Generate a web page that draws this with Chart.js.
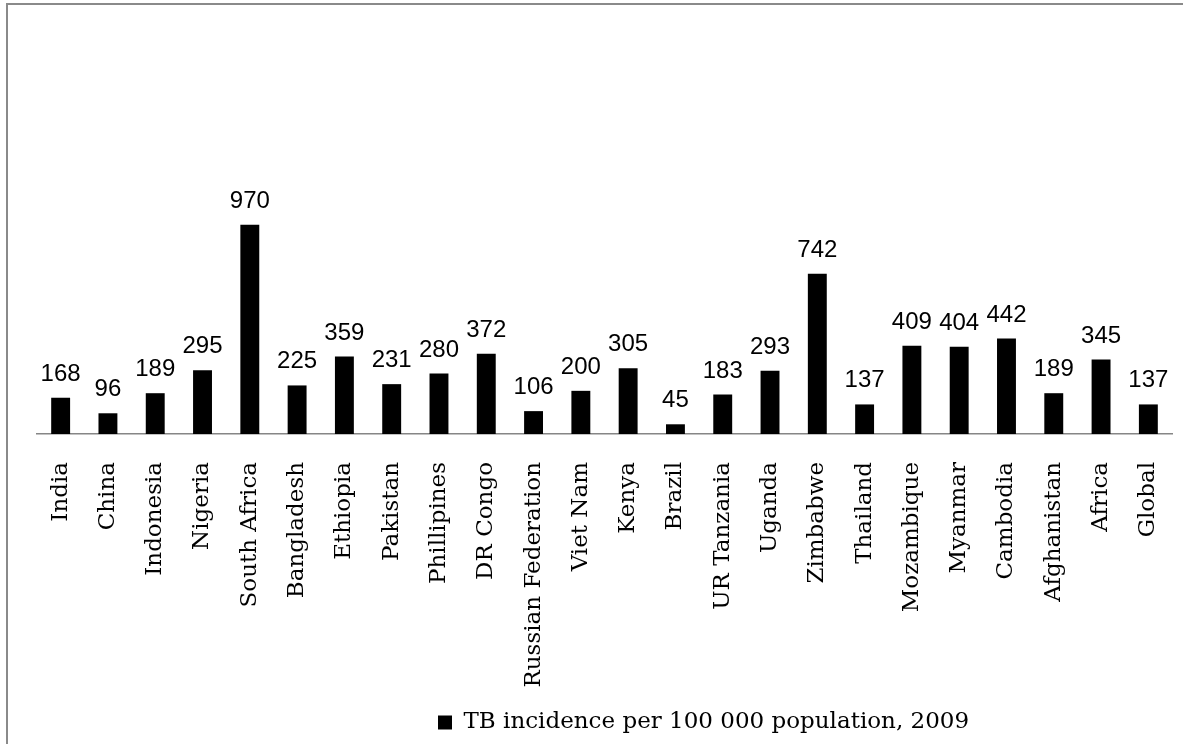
<!DOCTYPE html>
<html>
<head>
<meta charset="utf-8">
<title>TB incidence per 100 000 population, 2009</title>
<script src="https://cdn.jsdelivr.net/npm/chart.js@4.4.1/dist/chart.umd.min.js"></script>
<style>
  html, body { margin: 0; padding: 0; background: #ffffff; }
  #wrap { width: 1183px; height: 744px; position: relative; }
</style>
</head>
<body>
<div id="wrap"><canvas id="chart" width="1183" height="744"></canvas></div>
<script>
// Countries / regions shown on the category axis
const countries = [
  'India', 'China', 'Indonesia', 'Nigeria', 'South Africa', 'Bangladesh',
  'Ethiopia', 'Pakistan', 'Phillipines', 'DR Congo', 'Russian Federation',
  'Viet Nam', 'Kenya', 'Brazil', 'UR Tanzania', 'Uganda', 'Zimbabwe',
  'Thailand', 'Mozambique', 'Myanmar', 'Cambodia', 'Afghanistan', 'Africa', 'Global'
];

// Estimated TB incidence per 100 000 population, 2009
const incidence = [
  168, 96, 189, 295, 970, 225,
  359, 231, 280, 372, 106,
  200, 305, 45, 183, 293, 742,
  137, 409, 404, 442, 189, 345, 137
];

const seriesName = 'TB incidence per 100 000 population, 2009';
const valueMax = 1200;

// Thin grey frame along the top and left edges
const framePlugin = {
  id: 'frame',
  beforeDraw(chart) {
    const ctx = chart.ctx;
    ctx.save();
    ctx.strokeStyle = '#8a8a8a';
    ctx.lineWidth = 2;
    ctx.beginPath();
    ctx.moveTo(7, chart.height);
    ctx.lineTo(7, 4);
    ctx.lineTo(chart.width, 4);
    ctx.stroke();
    ctx.restore();
  }
};

// Value printed above each bar
const valueLabels = {
  id: 'valueLabels',
  afterDatasetsDraw(chart) {
    const ctx = chart.ctx;
    const meta = chart.getDatasetMeta(0);
    const data = chart.data.datasets[0].data;
    ctx.save();
    ctx.fillStyle = '#000000';
    ctx.font = '24px "Liberation Sans", Arial, sans-serif';
    ctx.textAlign = 'center';
    ctx.textBaseline = 'alphabetic';
    meta.data.forEach((bar, i) => {
      ctx.fillText(String(data[i]), bar.x, bar.y - 17);
    });
    ctx.restore();
  }
};

// Legend sits left of centre, under the middle of the categories
const legendShift = {
  id: 'legendShift',
  afterLayout(chart) {
    const lg = chart.legend;
    if (!lg) return;
    const w = lg.right - lg.left;
    lg.left = 428;
    lg.right = 428 + w;
  }
};

new Chart(document.getElementById('chart'), {
  type: 'bar',
  data: {
    labels: countries,
    datasets: [{
      label: seriesName,
      data: incidence,
      backgroundColor: '#000000',
      borderWidth: 0,
      barPercentage: 0.4,
      categoryPercentage: 1.0
    }]
  },
  options: {
    responsive: false,
    animation: false,
    devicePixelRatio: 1,
    layout: { padding: { top: 175, left: 37, right: 11, bottom: 0 } },
    plugins: {
      tooltip: { enabled: false },
      legend: {
        position: 'bottom',
        align: 'start',
        labels: {
          color: '#000000',
          font: { family: '"DejaVu Serif", serif', size: 23 },
          boxWidth: 14,
          boxHeight: 14,
          padding: 10
        }
      }
    },
    scales: {
      x: {
        offset: true,
        grid: { display: false, drawTicks: false },
        border: { display: true, color: '#868686', width: 1.5 },
        ticks: {
          color: '#000000',
          font: { family: '"DejaVu Serif", serif', size: 23 },
          minRotation: 90,
          maxRotation: 90,
          autoSkip: false,
          padding: 28
        },
        afterFit(scale) {
          scale.height = 267;
          scale.paddingLeft = 0;
          scale.paddingRight = 0;
        }
      },
      y: {
        display: false,
        min: 0,
        max: valueMax
      }
    }
  },
  plugins: [framePlugin, valueLabels, legendShift]
});
</script>
</body>
</html>
